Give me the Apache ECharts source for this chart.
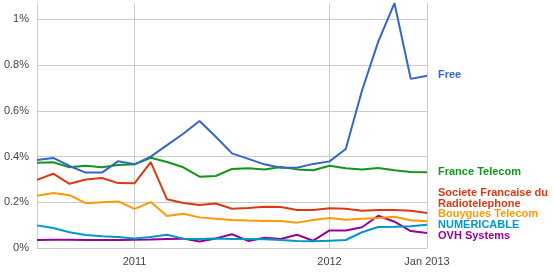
<!DOCTYPE html>
<html>
<head>
<meta charset="utf-8">
<script src="https://cdn.jsdelivr.net/npm/echarts@6/dist/echarts.min.js"></script>
<style>html,body{margin:0;padding:0;background:#fff}#c{width:553px;height:272px}</style>
</head>
<body>
<div id="c"></div>
<script>
// 25 periods; labels shown at index 6, 18, 24
const categories = ['p0','p1','p2','p3','p4','p5','2011','p7','p8','p9','p10','p11','p12','p13','p14','p15','p16','p17','2012','p19','p20','p21','p22','p23','Jan 2013'];
const tickLabels = {6: '2011', 18: '2012', 24: 'Jan 2013'};
const seriesNames = ['Free','France Telecom','Societe Francaise du\nRadiotelephone','Bouygues Telecom','NUMERICABLE','OVH Systems'];
const seriesColors = ['#3366cc','#109618','#dc3912','#ff9900','#0099c6','#990099'];
const free = [0.385,0.394,0.359,0.330,0.330,0.380,0.366,0.400,0.450,0.500,0.556,0.487,0.414,0.390,0.366,0.351,0.351,0.368,0.379,0.433,0.689,0.903,1.071,0.740,0.754];
const franceTelecom = [0.373,0.375,0.353,0.360,0.353,0.363,0.366,0.395,0.376,0.353,0.312,0.315,0.346,0.349,0.343,0.354,0.344,0.340,0.360,0.349,0.344,0.350,0.340,0.333,0.331];
const sfr = [0.298,0.325,0.281,0.300,0.306,0.284,0.283,0.376,0.213,0.197,0.188,0.195,0.172,0.175,0.181,0.179,0.166,0.166,0.174,0.172,0.163,0.166,0.166,0.163,0.153];
const bouygues = [0.229,0.241,0.231,0.196,0.200,0.204,0.171,0.201,0.140,0.150,0.134,0.128,0.123,0.120,0.118,0.118,0.111,0.123,0.131,0.124,0.128,0.131,0.137,0.121,0.117];
const numericable = [0.099,0.0875,0.069,0.057,0.051,0.048,0.042,0.048,0.058,0.041,0.039,0.042,0.039,0.039,0.038,0.035,0.031,0.029,0.032,0.035,0.069,0.092,0.093,0.095,0.102];
const ovh = [0.035,0.036,0.036,0.035,0.035,0.035,0.036,0.037,0.039,0.041,0.028,0.042,0.060,0.031,0.045,0.039,0.058,0.032,0.077,0.077,0.091,0.141,0.115,0.074,0.066];
const yTicks = [0, 0.2, 0.4, 0.6, 0.8, 1.0];
const labelOffsets = [[0,-1],[0,0],[0,-15],[0,-7],[0,0],[0,3]];

const allData = [free, franceTelecom, sfr, bouygues, numericable, ovh];
const font = '"Liberation Sans", Arial, sans-serif';
const chart = echarts.init(document.getElementById('c'), null, {renderer: 'canvas'});
const gridIdx = [0, 6, 18, 24];
chart.setOption({
  backgroundColor: '#fff',
  animation: false,
  grid: {left: 37, right: 126, top: 3, bottom: 24, containLabel: false},
  xAxis: {
    type: 'category',
    data: categories,
    boundaryGap: false,
    axisLine: {show: true, lineStyle: {color: '#cccccc', width: 1}},
    axisTick: {show: false},
    axisLabel: {
      interval: (i) => tickLabels[i] !== undefined,
      formatter: (v, i) => tickLabels[i] || '',
      color: '#444', fontFamily: font, fontSize: 11, margin: 8,
      showMaxLabel: true
    },
    splitLine: {show: true, interval: (i) => gridIdx.includes(i), lineStyle: {color: '#cccccc', width: 1}}
  },
  yAxis: {
    type: 'value',
    min: 0, max: 1.072, interval: 0.2,
    axisLine: {show: false},
    axisTick: {show: false},
    axisLabel: {
      color: '#444', fontFamily: font, fontSize: 11, margin: 8,
      showMaxLabel: false,
      formatter: (v) => yTicks.some(t => Math.abs(t - v) < 1e-9) ? (Math.round(v * 10) / 10) + '%' : ''
    },
    splitLine: {show: true, showMaxLine: false, lineStyle: {color: '#cccccc', width: 1}}
  },
  series: allData.map((d, k) => ({
    name: seriesNames[k],
    type: 'line',
    data: d,
    symbol: 'none',
    clip: false,
    lineStyle: {color: seriesColors[k], width: 2},
    itemStyle: {color: seriesColors[k]},
    z: 10 - k,
    endLabel: {
      show: true,
      formatter: '{a}',
      color: seriesColors[k],
      fontFamily: font, fontSize: 11, fontWeight: 'bold',
      lineHeight: 11,
      distance: 11,
      offset: labelOffsets[k],
      align: 'left', verticalAlign: 'middle'
    }
  }))
});
</script>
</body>
</html>
